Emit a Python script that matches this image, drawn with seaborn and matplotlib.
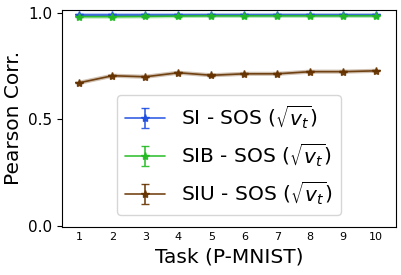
import numpy as np
import matplotlib
matplotlib.use("Agg")
import matplotlib.pyplot as plt
import seaborn as sns

tasks = [1, 2, 3, 4, 5, 6, 7, 8, 9, 10]
si_sos = [0.990, 0.990, 0.990, 0.990, 0.990, 0.990, 0.990, 0.990, 0.990, 0.990]
sib_sos = [0.981, 0.981, 0.982, 0.984, 0.985, 0.985, 0.985, 0.985, 0.985, 0.985]
siu_sos = [0.671, 0.704, 0.699, 0.718, 0.706, 0.713, 0.713, 0.723, 0.723, 0.727]
err = [0.003, 0.003, 0.003, 0.003, 0.003, 0.003, 0.003, 0.003, 0.003, 0.003]

labels = [r"SI - SOS ($\sqrt{v_t}$)", r"SIB - SOS ($\sqrt{v_t}$)", r"SIU - SOS ($\sqrt{v_t}$)"]
colors = ["#1f4fe0", "#22bb22", "#663300"]

sns.set_style("ticks", {"text.color": "black", "axes.labelcolor": "black",
                        "xtick.color": "black", "ytick.color": "black",
                        "axes.edgecolor": "black"})
plt.rcParams["font.family"] = ["DejaVu Sans"]

fig, ax = plt.subplots(figsize=(4.02, 2.75), dpi=100)
for vals, lab, col in zip([si_sos, sib_sos, siu_sos], labels, colors):
    # soft halo behind each line
    sns.lineplot(x=tasks, y=vals, ax=ax, color=col, lw=3, alpha=0.3, legend=False)
    ax.errorbar(tasks, vals, yerr=err, color=col, marker="*", markersize=6,
                lw=1.2, capsize=3, alpha=0.9, label=lab)

ax.set_xlim(0.48, 10.6)
ax.set_ylim(-0.005, 1.014)
ax.set_xticks(tasks)
ax.set_yticks([0.0, 0.5, 1.0])
ax.tick_params(axis="x", labelsize=8, length=0)
ax.tick_params(axis="y", labelsize=11)
ax.set_xlabel("Task (P-MNIST)", fontsize=14.5)
ax.set_ylabel("Pearson Corr.", fontsize=14.5)
ax.legend(loc="lower center", bbox_to_anchor=(0.5, 0.01), fontsize=14.5, frameon=True)

fig.subplots_adjust(left=0.155, right=0.985, top=0.965, bottom=0.175)
fig.savefig("out.png", dpi=100)
